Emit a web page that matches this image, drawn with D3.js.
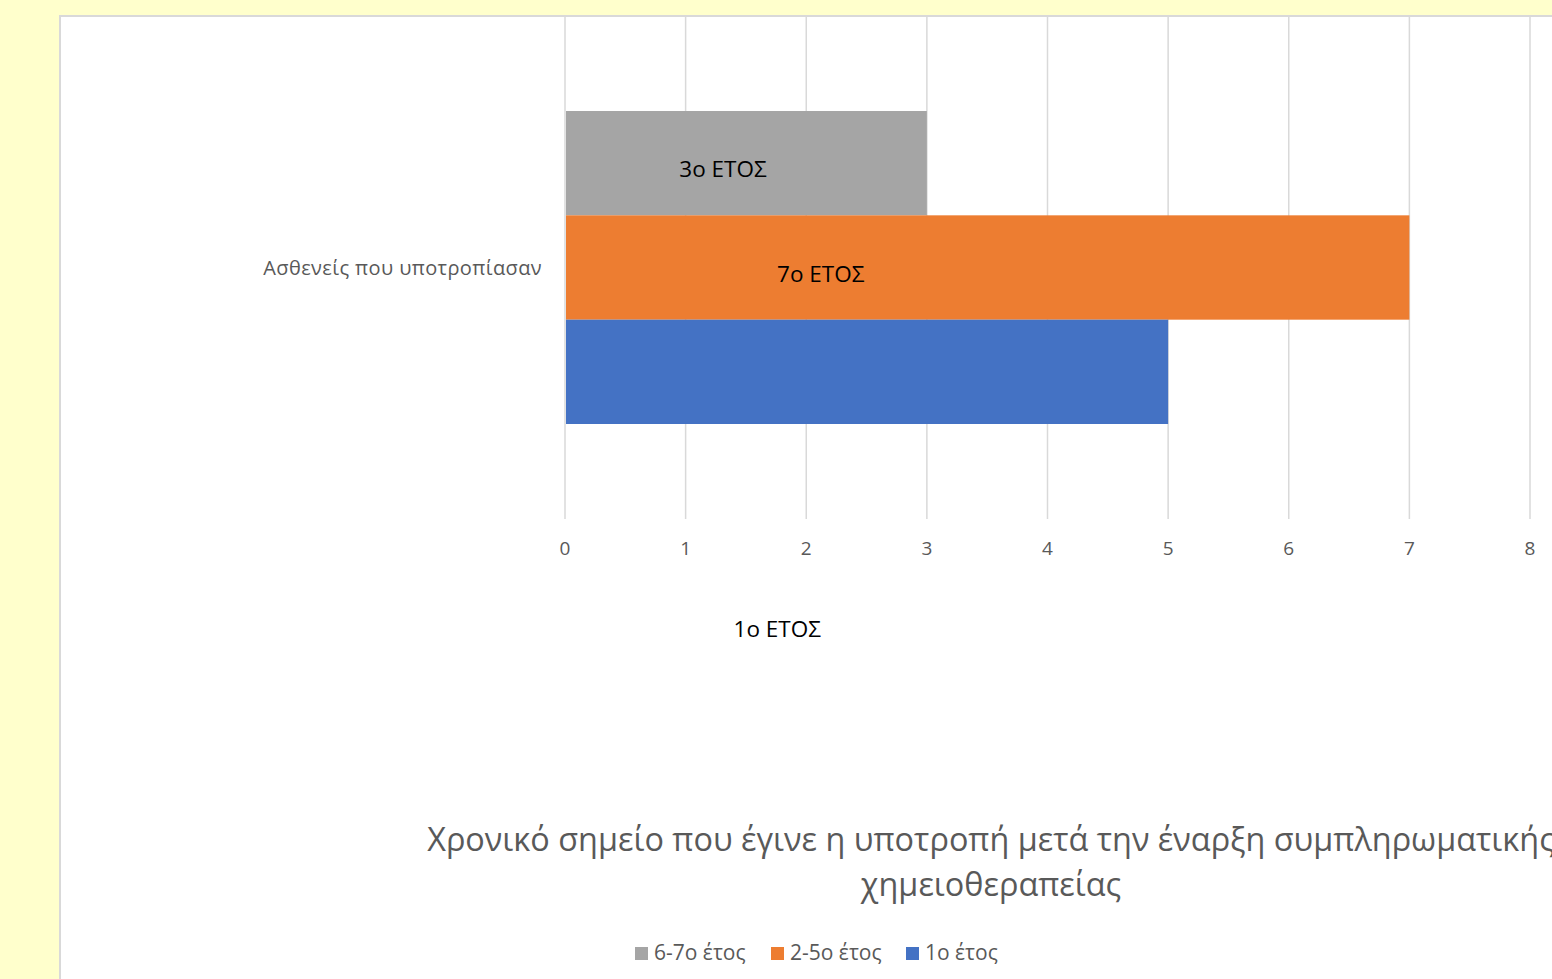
<!DOCTYPE html>
<html><head><meta charset="utf-8">
<script src="https://cdn.jsdelivr.net/npm/d3@7"></script>
<style>
html,body{margin:0;padding:0;background:#FFFFCC;overflow:hidden}
text{font-family:"Open Sans","Noto Sans",sans-serif}
</style></head>
<body>
<svg id="c" width="1552" height="979"></svg>
<script>
const category = "Ασθενείς που υποτροπίασαν";
const series = ["6-7ο έτος", "2-5ο έτος", "1ο έτος"];
const values = [3, 7, 5];
const colors = ["#A5A5A5", "#ED7D31", "#4472C4"];
const dataLabels = ["3ο ΕΤΟΣ", "7ο ΕΤΟΣ", "1ο ΕΤΟΣ"];
const xTicks = [0, 1, 2, 3, 4, 5, 6, 7, 8];
const titleLines = ["Χρονικό σημείο που έγινε η υποτροπή μετά την έναρξη συμπληρωματικής", "χημειοθεραπείας"];
const legendOrder = ["6-7ο έτος", "2-5ο έτος", "1ο έτος"];

const svg = d3.select("#c");
// chart panel
svg.append("rect").attr("x", 60).attr("y", 16).attr("width", 1600).attr("height", 1000)
  .attr("fill", "#fff").attr("stroke", "#D9D9D9").attr("stroke-width", 2);

const x = d3.scaleLinear().domain([0, 8]).range([565, 1530]);
const y = d3.scaleBand().domain(series).range([111, 424]).padding(0);
const plotTop = 17, plotBottom = 519;

// gridlines
svg.append("g").selectAll("line").data(xTicks).join("line")
  .attr("x1", d => x(d)).attr("x2", d => x(d))
  .attr("y1", plotTop).attr("y2", plotBottom)
  .attr("stroke", "#D9D9D9").attr("stroke-width", 1.5);

// tick labels
svg.append("g").selectAll("text").data(xTicks).join("text")
  .attr("x", d => x(d)).attr("y", 555)
  .attr("text-anchor", "middle").attr("font-size", 19).attr("fill", "#595959")
  .text(d => d);

// bars
svg.append("g").selectAll("rect").data(series).join("rect")
  .attr("x", x(0) + 1).attr("y", d => y(d))
  .attr("width", (d, i) => x(values[i]) - x(0) - 1)
  .attr("height", y.bandwidth())
  .attr("fill", (d, i) => colors[i]);

// category label
svg.append("text").attr("x", 542).attr("y", (111 + 424) / 2 + 7)
  .attr("text-anchor", "end").attr("font-size", 20).attr("letter-spacing", 0.4).attr("fill", "#595959")
  .text(category);

// data labels (positions as placed in the reference)
const labelPos = [
  [x(1.31), y(series[0]) + y.bandwidth() / 2 + 6],
  [x(2.12), y(series[1]) + y.bandwidth() / 2 + 6],
  [x(1.76), 629]
];
svg.append("g").selectAll("text").data(dataLabels).join("text")
  .attr("x", (d, i) => labelPos[i][0]).attr("y", (d, i) => labelPos[i][1] + 8)
  .attr("text-anchor", "middle").attr("font-size", 22.5).attr("fill", "#000")
  .text(d => d);

// title
svg.append("g").selectAll("text").data(titleLines).join("text")
  .attr("x", 991).attr("y", (d, i) => 851 + i * 45)
  .attr("text-anchor", "middle").attr("font-size", 32.4).attr("fill", "#595959")
  .text(d => d);

// legend
const lg = svg.append("g");
const legX = [635, 771, 906];
legendOrder.forEach((s, i) => {
  const g = lg.append("g").attr("transform", `translate(${legX[i]},953)`);
  g.append("rect").attr("x", 0).attr("y", -6).attr("width", 13).attr("height", 13)
    .attr("fill", colors[series.indexOf(s)]);
  g.append("text").attr("x", 19).attr("y", 7).attr("font-size", 21).attr("fill", "#595959").text(s);
});
</script>
</body></html>
